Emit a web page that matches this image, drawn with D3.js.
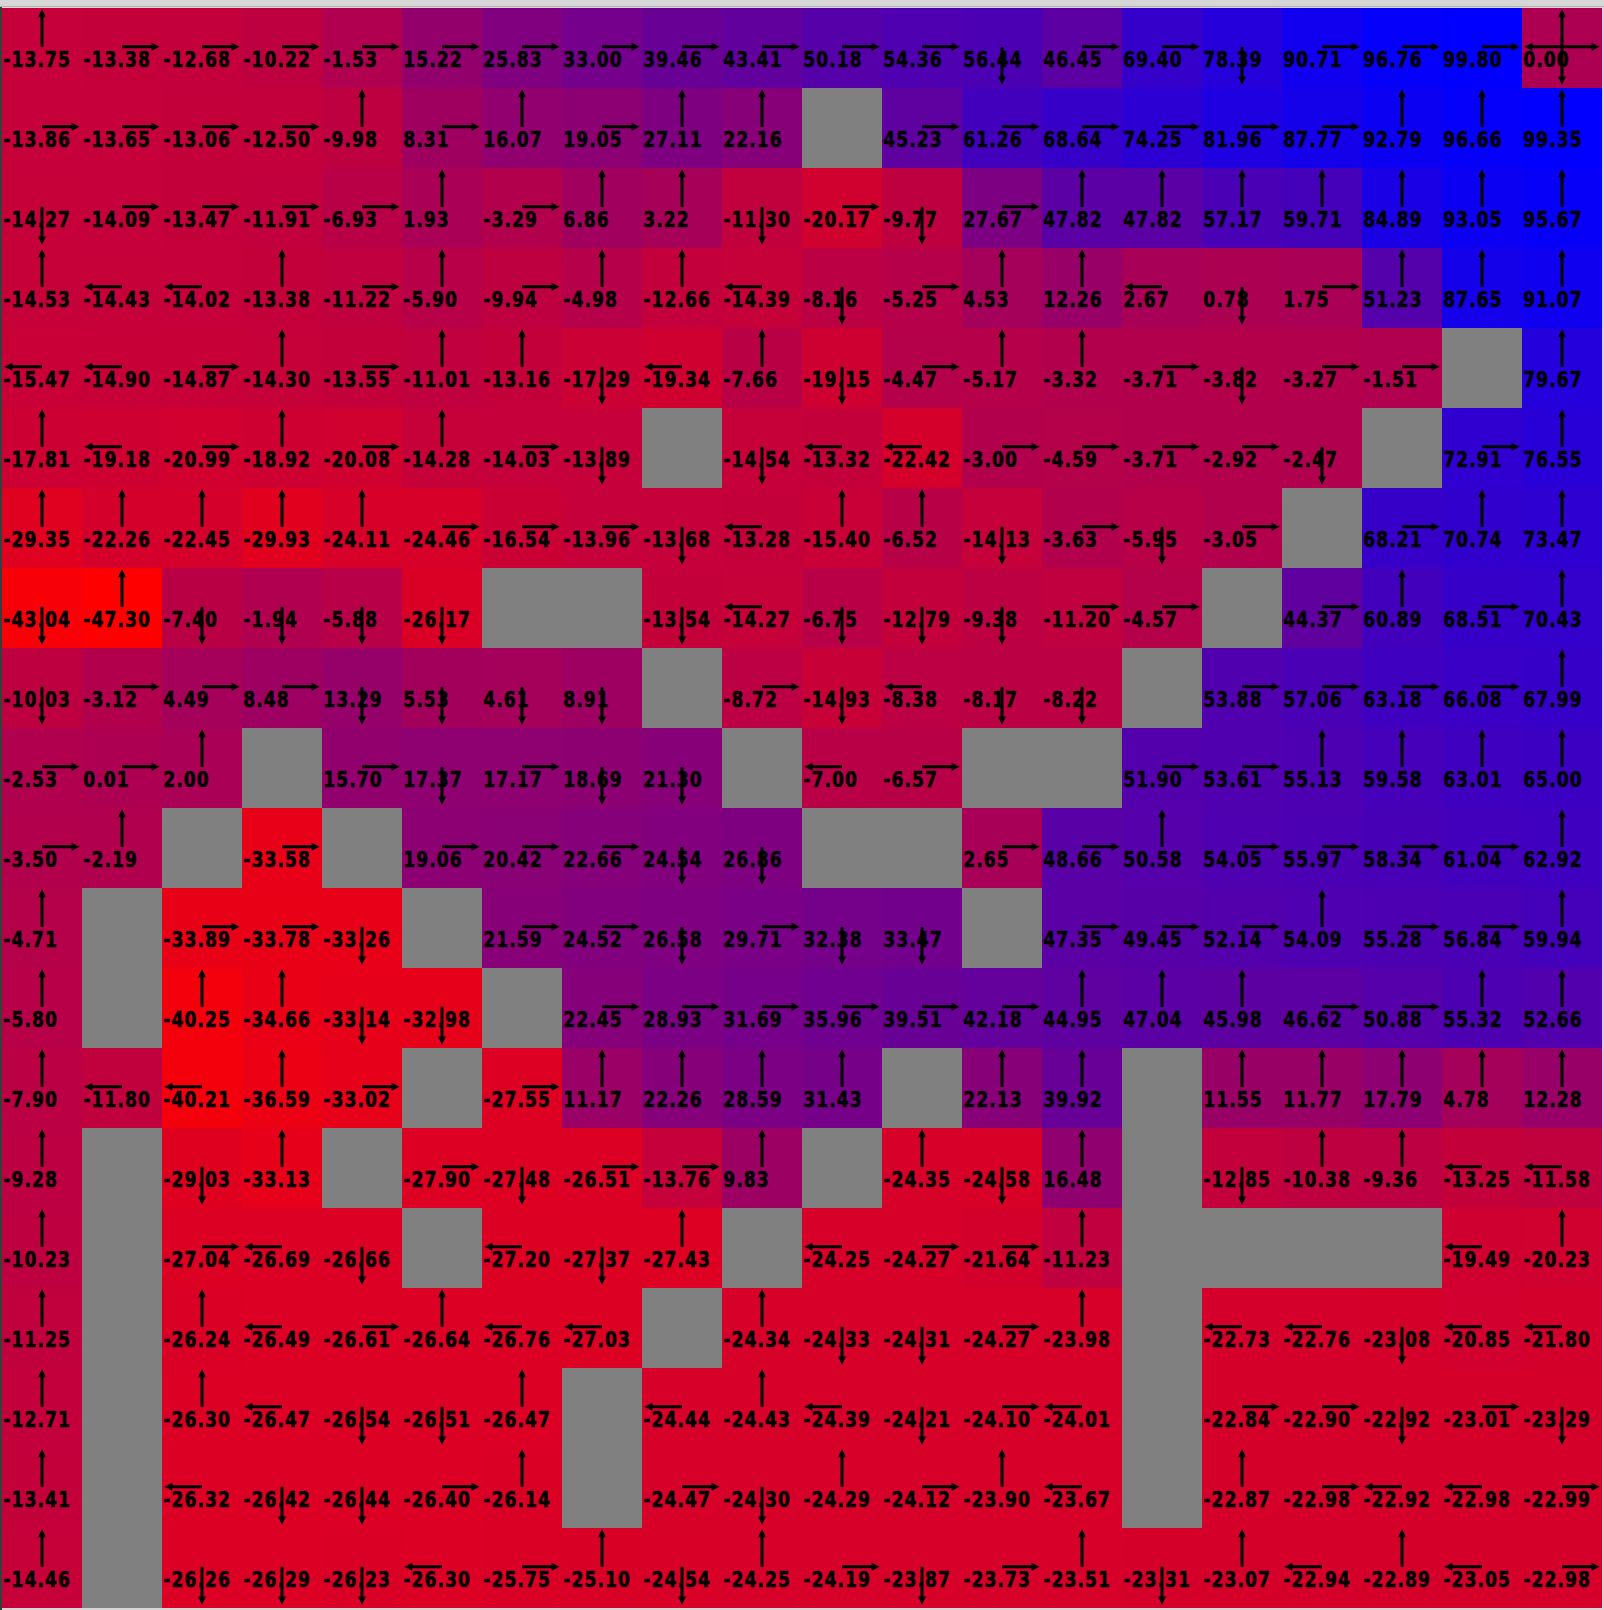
<!DOCTYPE html>
<html>
<head>
<meta charset="utf-8">
<script src="https://cdn.jsdelivr.net/npm/d3@7"></script>
<style>
  html, body { margin: 0; padding: 0; background: #d6d6d6; overflow: hidden; }
  svg { display: block; }
  .val { font-family: "DejaVu Sans Condensed", "DejaVu Sans", sans-serif; font-stretch: condensed; font-weight: bold; font-size: 19px; letter-spacing: 1.1px; fill: #000; stroke: #000; stroke-width: 0.5px; }
</style>
</head>
<body>
<svg id="chart" width="1604" height="1610"></svg>
<script>
// State values (null = wall)
const values = [
  [-13.75,-13.38,-12.68,-10.22,-1.53,15.22,25.83,33.00,39.46,43.41,50.18,54.36,56.44,46.45,69.40,78.39,90.71,96.76,99.80,0.00],
  [-13.86,-13.65,-13.06,-12.50,-9.98,8.31,16.07,19.05,27.11,22.16,null,45.23,61.26,68.64,74.25,81.96,87.77,92.79,96.66,99.35],
  [-14.27,-14.09,-13.47,-11.91,-6.93,1.93,-3.29,6.86,3.22,-11.30,-20.17,-9.77,27.67,47.82,47.82,57.17,59.71,84.89,93.05,95.67],
  [-14.53,-14.43,-14.02,-13.38,-11.22,-5.90,-9.94,-4.98,-12.66,-14.39,-8.16,-5.25,4.53,12.26,2.67,0.78,1.75,51.23,87.65,91.07],
  [-15.47,-14.90,-14.87,-14.30,-13.55,-11.01,-13.16,-17.29,-19.34,-7.66,-19.15,-4.47,-5.17,-3.32,-3.71,-3.82,-3.27,-1.51,null,79.67],
  [-17.81,-19.18,-20.99,-18.92,-20.08,-14.28,-14.03,-13.89,null,-14.54,-13.32,-22.42,-3.00,-4.59,-3.71,-2.92,-2.47,null,72.91,76.55],
  [-29.35,-22.26,-22.45,-29.93,-24.11,-24.46,-16.54,-13.96,-13.68,-13.28,-15.40,-6.52,-14.13,-3.63,-5.95,-3.05,null,68.21,70.74,73.47],
  [-43.04,-47.30,-7.40,-1.94,-5.88,-26.17,null,null,-13.54,-14.27,-6.75,-12.79,-9.38,-11.20,-4.57,null,44.37,60.89,68.51,70.43],
  [-10.03,-3.12,4.49,8.48,13.29,5.53,4.61,8.91,null,-8.72,-14.93,-8.38,-8.17,-8.22,null,53.88,57.06,63.18,66.08,67.99],
  [-2.53,0.01,2.00,null,15.70,17.37,17.17,18.69,21.30,null,-7.00,-6.57,null,null,51.90,53.61,55.13,59.58,63.01,65.00],
  [-3.50,-2.19,null,-33.58,null,19.06,20.42,22.66,24.54,26.86,null,null,2.65,48.66,50.58,54.05,55.97,58.34,61.04,62.92],
  [-4.71,null,-33.89,-33.78,-33.26,null,21.59,24.52,26.58,29.71,32.38,33.47,null,47.35,49.45,52.14,54.09,55.28,56.84,59.94],
  [-5.80,null,-40.25,-34.66,-33.14,-32.98,null,22.45,28.93,31.69,35.96,39.51,42.18,44.95,47.04,45.98,46.62,50.88,55.32,52.66],
  [-7.90,-11.80,-40.21,-36.59,-33.02,null,-27.55,11.17,22.26,28.59,31.43,null,22.13,39.92,null,11.55,11.77,17.79,4.78,12.28],
  [-9.28,null,-29.03,-33.13,null,-27.90,-27.48,-26.51,-13.76,9.83,null,-24.35,-24.58,16.48,null,-12.85,-10.38,-9.36,-13.25,-11.58],
  [-10.23,null,-27.04,-26.69,-26.66,null,-27.20,-27.37,-27.43,null,-24.25,-24.27,-21.64,-11.23,null,null,null,null,-19.49,-20.23],
  [-11.25,null,-26.24,-26.49,-26.61,-26.64,-26.76,-27.03,null,-24.34,-24.33,-24.31,-24.27,-23.98,null,-22.73,-22.76,-23.08,-20.85,-21.80],
  [-12.71,null,-26.30,-26.47,-26.54,-26.51,-26.47,null,-24.44,-24.43,-24.39,-24.21,-24.10,-24.01,null,-22.84,-22.90,-22.92,-23.01,-23.29],
  [-13.41,null,-26.32,-26.42,-26.44,-26.40,-26.14,null,-24.47,-24.30,-24.29,-24.12,-23.90,-23.67,null,-22.87,-22.98,-22.92,-22.98,-22.99],
  [-14.46,null,-26.26,-26.29,-26.23,-26.30,-25.75,-25.10,-24.54,-24.25,-24.19,-23.87,-23.73,-23.51,-23.31,-23.07,-22.94,-22.89,-23.05,-22.98]
];

// Greedy policy: U/D/L/R per cell ("" = wall)
const policy = [
  ["U","R","R","R","R","R","R","R","R","R","R","R","D","R","R","D","R","R","R","UDLR"],
  ["R","R","R","R","U","R","U","R","U","U","","R","R","R","R","R","R","U","U","U"],
  ["D","R","R","R","R","U","R","U","U","D","R","D","R","U","U","U","U","U","U","U"],
  ["U","L","L","U","R","U","R","U","U","L","D","R","U","U","L","D","R","U","U","U"],
  ["L","L","R","U","R","U","U","D","L","U","D","R","U","U","R","D","R","R","","U"],
  ["U","L","R","U","R","U","R","D","","D","L","L","R","R","R","R","D","","R","U"],
  ["U","U","U","U","U","R","R","R","D","L","U","U","D","R","D","R","","R","U","U"],
  ["D","U","D","D","D","D","","","D","L","D","D","D","R","R","","R","U","R","U"],
  ["D","R","R","R","D","D","D","D","","R","D","L","D","D","","R","R","R","R","U"],
  ["R","R","U","","R","D","R","D","D","","L","R","","","R","R","U","U","U","U"],
  ["R","U","","R","","R","R","R","D","D","","","R","R","U","R","R","R","R","U"],
  ["U","","R","R","D","","R","R","D","R","D","D","","R","R","R","U","R","R","U"],
  ["U","","U","U","D","D","","R","R","R","R","R","R","U","U","U","R","R","U","U"],
  ["U","L","L","U","R","","R","U","U","U","U","","U","U","","U","U","U","U","U"],
  ["U","","D","U","","R","D","R","R","U","","U","D","U","","D","U","U","L","L"],
  ["U","","R","L","D","","L","D","U","","L","R","R","U","","","","","L","U"],
  ["U","","U","L","R","U","L","L","","U","D","D","R","U","","L","L","D","L","L"],
  ["U","","U","L","D","D","U","","L","U","L","D","R","L","","R","R","D","R","D"],
  ["U","","L","D","D","R","U","","R","D","U","R","U","L","","U","R","L","L","R"],
  ["U","","D","D","D","L","R","U","D","U","R","D","R","U","D","U","L","U","L","R"]
];

const nRows = values.length, nCols = values[0].length;
const svg = d3.select("#chart");

// window chrome
svg.append("rect").attr("x", 0).attr("y", 0).attr("width", 1604).attr("height", 1610).attr("fill", "#d6d6d6");
svg.append("rect").attr("x", 0).attr("y", 6).attr("width", 1604).attr("height", 1).attr("fill", "#b4b4b4");
svg.append("rect").attr("x", 0).attr("y", 7).attr("width", 2).attr("height", 1603).attr("fill", "#3c3c3c");

const x = d3.scaleBand().domain(d3.range(nCols)).range([2, 1602]).padding(0);
const y = d3.scaleBand().domain(d3.range(nRows)).range([8, 1608]).padding(0);
const bw = x.bandwidth(), bh = y.bandwidth();

const all = values.flat().filter(v => v !== null);
const color = d3.scaleLinear().domain([d3.min(all), d3.max(all)]).range(["#ff0000", "#0000ff"]).interpolate(d3.interpolateRgb);

const cells = [];
values.forEach((row, r) => row.forEach((v, c) => cells.push({r, c, v, p: policy[r][c]})));

const g = svg.append("g");
const cell = g.selectAll("g.cell").data(cells).join("g").attr("class", "cell")
  .attr("transform", d => `translate(${x(d.c)},${y(d.r)})`);

cell.append("rect").attr("width", bw).attr("height", bh)
  .attr("fill", d => d.v === null ? "#808080" : color(d.v))
  .attr("shape-rendering", "crispEdges");

cell.filter(d => d.v !== null).append("text").attr("class", "val")
  .attr("transform", `translate(${bw * 0.015},${bh * 0.735}) scale(1,1.1)`)
  .text(d => d.v.toFixed(2));

// arrows
const cx = bw * 0.5, cy = bh * 0.485, L = bw * 0.47, head = 8, hw = 4;
const dirs = {
  U: [0, -1], D: [0, 1], L: [-1, 0], R: [1, 0]
};
cells.filter(d => d.v !== null).forEach(d => {
  const gg = cell.filter(e => e === d);
  for (const k of d.p.split("")) {
    const [dx, dy] = dirs[k];
    const tx = cx + dx * L, ty = cy + dy * L;
    gg.append("line").attr("x1", cx).attr("y1", cy)
      .attr("x2", tx - dx * head * 0.5).attr("y2", ty - dy * head * 0.5)
      .attr("stroke", "#000").attr("stroke-width", 3);
    const px = -dy, py = dx;
    const bx = tx - dx * head, by = ty - dy * head;
    gg.append("path")
      .attr("d", `M${tx},${ty}L${bx + px * hw},${by + py * hw}L${bx - px * hw},${by - py * hw}Z`)
      .attr("fill", "#000");
  }
});
</script>
</body>
</html>
